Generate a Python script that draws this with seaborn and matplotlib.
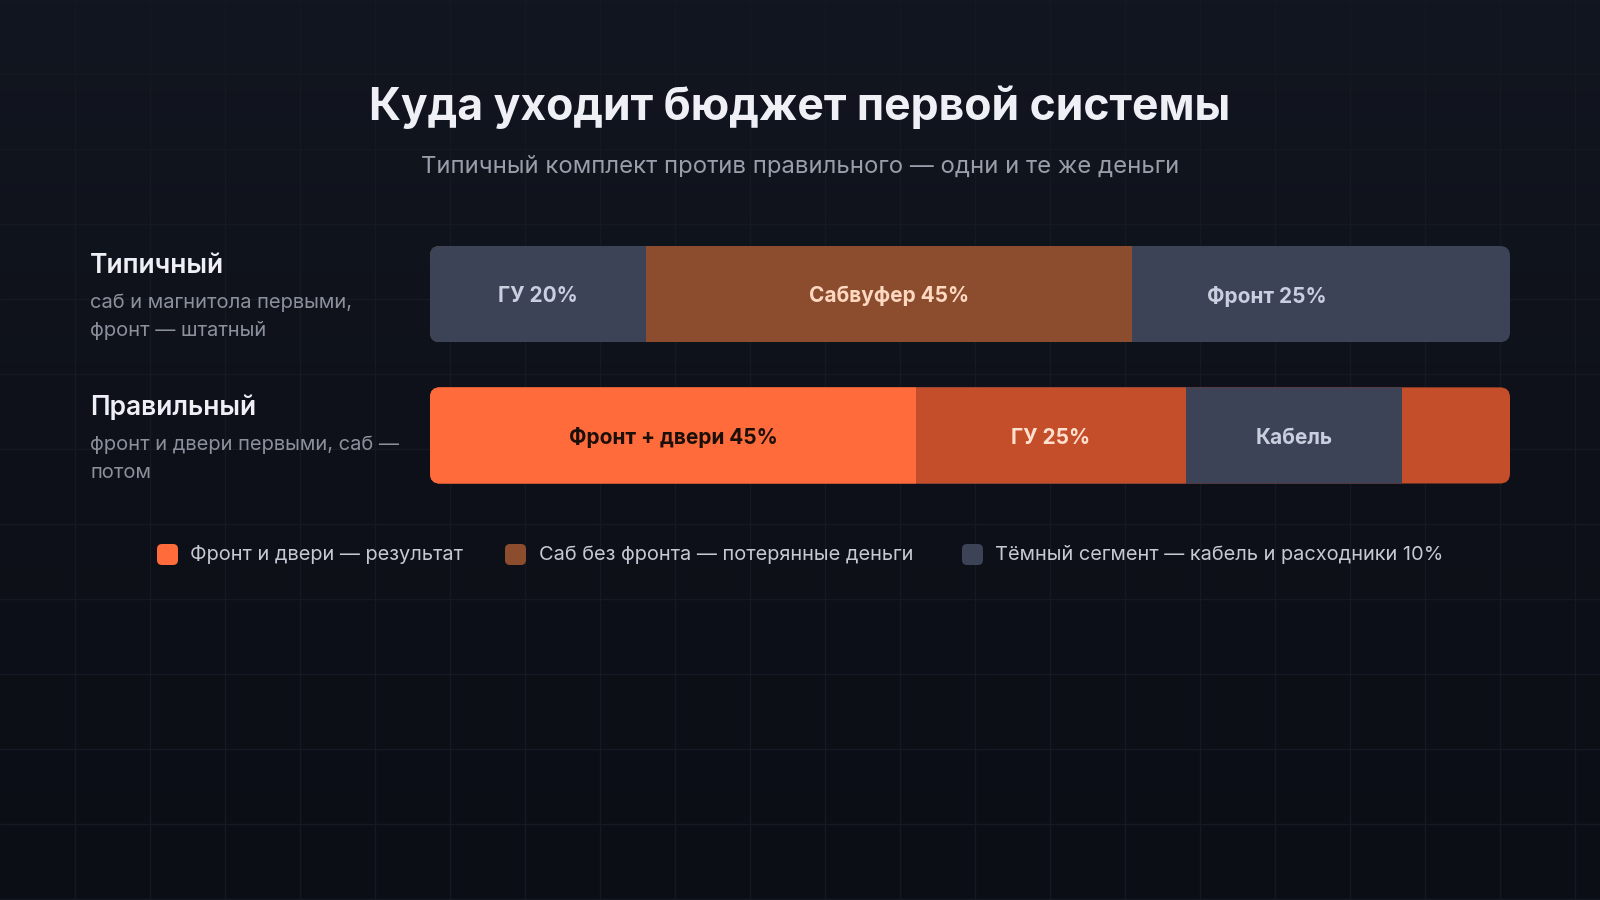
import numpy as np
import pandas as pd
import matplotlib
matplotlib.use("Agg")
import matplotlib.pyplot as plt
from matplotlib.patches import FancyBboxPatch
from matplotlib.colors import LinearSegmentedColormap
import seaborn as sns

# ---------------- data ----------------
rows = ["Типичный", "Правильный"]
row_notes = [["саб и магнитола первыми,", "фронт — штатный"],
             ["фронт и двери первыми, саб —", "потом"]]

typical_shares = [20, 45, 25, 10]
typical_labels = ["ГУ 20%", "Сабвуфер 45%", "Фронт 25%", ""]
correct_shares = [45, 25, 20, 10]
correct_labels = ["Фронт + двери 45%", "ГУ 25%", "Кабель", ""]

title = "Куда уходит бюджет первой системы"
subtitle = "Типичный комплект против правильного — одни и те же деньги"
legend_labels = ["Фронт и двери — результат",
                 "Саб без фронта — потерянные деньги",
                 "Тёмный сегмент — кабель и расходники 10%"]

# ---------------- styles ----------------
DARK = "#3c4357"
BROWN = "#8c4d2f"
ORANGE = "#ff6b3b"
RUST = "#c44d2a"
typical_colors = [DARK, BROWN, DARK, DARK]
correct_colors = [ORANGE, RUST, DARK, RUST]
typical_text = ["#c9cfdf", "#ffd8c2", "#c9cfdf", "#c9cfdf"]
correct_text = ["#1b0f0a", "#ffe0cf", "#c9cfdf", "#c9cfdf"]
legend_colors = [ORANGE, BROWN, DARK]

sns.set_theme(style="white")
plt.rcParams["font.family"] = ["Inter", "DejaVu Sans"]

W, H = 1600, 900
fig = plt.figure(figsize=(16, 9), dpi=100)
fig.patch.set_facecolor("#0d1017")

# ---------------- background (pixel coordinates) ----------------
bg = fig.add_axes([0, 0, 1, 1], zorder=0)
bg.set_xlim(0, W)
bg.set_ylim(H, 0)
bg.set_axis_off()
grad = np.linspace(0, 1, 256).reshape(-1, 1)
cmap = LinearSegmentedColormap.from_list("bg", ["#121620", "#0e1119", "#0b0e15"])
bg.imshow(grad, aspect="auto", cmap=cmap, extent=[0, W, H, 0], zorder=0)
for gx in range(75, W, 75):
    bg.axvline(gx, color="#151922", lw=1, zorder=1)
for gy in range(74, H, 75):
    bg.axhline(gy, color="#151922", lw=1, zorder=1)

bg.text(800, 120, title, ha="center", va="baseline", fontsize=32,
        fontweight="bold", color="#eef0f6", zorder=5)
bg.text(800, 173, subtitle, ha="center", va="baseline", fontsize=17.2,
        color="#9a9eab", zorder=5)

# row titles and notes
row_baselines = [273, 415]
for name, note, yb in zip(rows, row_notes, row_baselines):
    bg.text(90, yb, name, ha="left", va="baseline", fontsize=19,
            fontweight="semibold", color="#eef0f6", zorder=5)
    for j, line in enumerate(note):
        bg.text(90, yb + 35 + j * 27.5, line, ha="left", va="baseline",
                fontsize=14.5, color="#8b909d", zorder=5)

# legend
swatch_x = [157, 505, 962]
text_x = [190, 539, 995]
for sx, tx, lab, col in zip(swatch_x, text_x, legend_labels, legend_colors):
    bg.add_patch(FancyBboxPatch((sx, 544), 21, 21,
                                boxstyle="round,pad=0,rounding_size=5",
                                fc=col, ec="none", zorder=5))
    bg.text(tx, 555, lab, ha="left", va="center", fontsize=14.4,
            color="#c6c9d3", zorder=5)

# ---------------- bars ----------------
left_px, right_px = 430, 1510
top_px, bot_px = 246, 483.5
ax = fig.add_axes([left_px / W, 1 - bot_px / H,
                   (right_px - left_px) / W, (bot_px - top_px) / H], zorder=2)
ax.patch.set_alpha(0)

bar_w = 0.68
shares = [typical_shares, correct_shares]
colors = [typical_colors, correct_colors]
nseg = len(typical_shares)
for k in reversed(range(nseg)):
    df = pd.DataFrame({
        "row": rows,
        "end": [sum(s[:k + 1]) for s in shares],
    })
    pal = {rows[i]: colors[i][k] for i in range(len(rows))}
    sns.barplot(data=df, x="end", y="row", hue="row", palette=pal,
                orient="h", width=bar_w, saturation=1, legend=False,
                linewidth=0, edgecolor="none", ax=ax, order=rows)

ax.set_xlim(0, 100)
ax.set_ylim(1 + bar_w / 2, -bar_w / 2)
ax.set_axis_off()

# rounded clip per row
px_per_x = (right_px - left_px) / 100.0
px_per_y = (bot_px - top_px) / (1 + bar_w)
radius_px = 10
r = radius_px / px_per_x
asp = px_per_x / px_per_y
clips = []
for i in range(len(rows)):
    cp = FancyBboxPatch((0, i - bar_w / 2), 100, bar_w,
                        boxstyle=f"round,pad=0,rounding_size={r}",
                        mutation_aspect=asp, transform=ax.transData,
                        fc="none", ec="none")
    clips.append(cp)
for p in ax.patches:
    cy = p.get_y() + p.get_height() / 2
    i = int(round(cy))
    p.set_clip_path(clips[i])

# segment labels
labels = [typical_labels, correct_labels]
tcols = [typical_text, correct_text]
for i in range(len(rows)):
    start = 0
    for k, val in enumerate(shares[i]):
        if labels[i][k]:
            ax.text(start + val / 2, i + 0.015, labels[i][k], ha="center",
                    va="center", fontsize=15, fontweight="bold",
                    color=tcols[i][k], zorder=10)
        start += val

fig.savefig("out.png", dpi=100, facecolor=fig.get_facecolor())
